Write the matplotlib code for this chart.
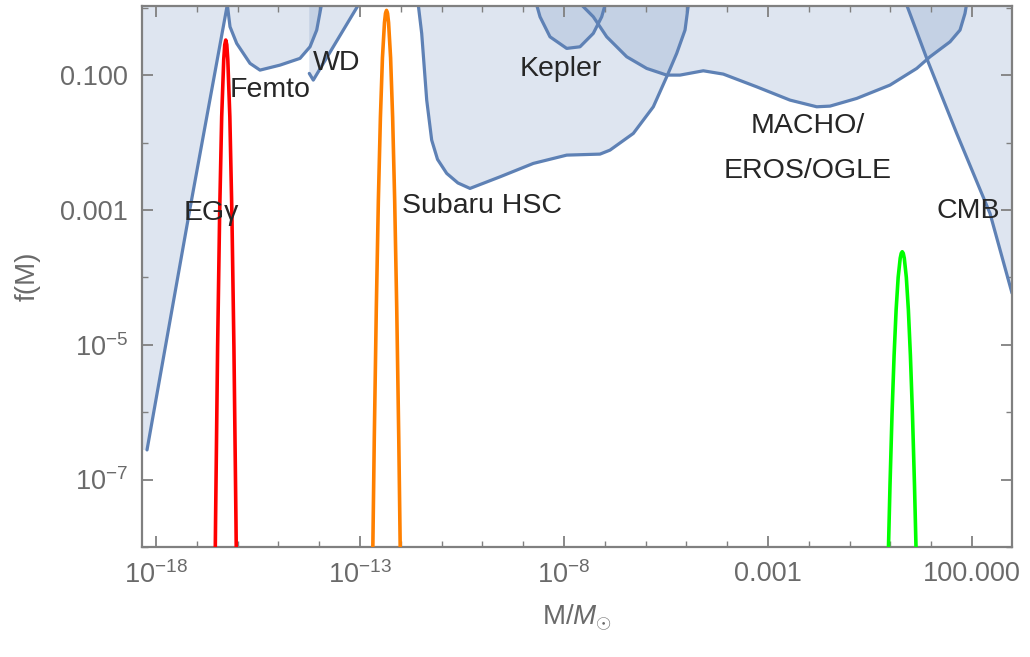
import numpy as np
import matplotlib
matplotlib.use("Agg")
import matplotlib.pyplot as plt
from matplotlib.ticker import FixedLocator, FixedFormatter, NullFormatter

plt.rcParams['font.family'] = ['Liberation Sans', 'DejaVu Sans']
plt.rcParams['mathtext.fontset'] = 'custom'
plt.rcParams['mathtext.rm'] = 'Liberation Sans'
plt.rcParams['mathtext.it'] = 'Liberation Sans:italic'

TOP = 1.2  # constraint fills go up to (beyond) the top of the plot

# ---- constraint curves (log10 M, log10 f) ----
egamma_logm = [-18.22, -17.17, -16.25]
egamma_logf = [-6.56, -2.99, 0.05]

femto_logm = [-16.253, -16.186, -16.022, -15.696, -15.451, -14.961, -14.471, -14.225, -14.061, -13.939]
femto_logf = [0.053, -0.283, -0.530, -0.826, -0.926, -0.852, -0.752, -0.580, -0.332, 0.064]

wd_logm = [-14.243, -14.145, -13.042]
wd_logf = [-0.975, -1.074, 0.039]

subaru_logm = [-11.571, -11.488, -11.365, -11.243, -11.10, -10.875, -10.60, -10.304, -9.569, -8.752, -7.934,
               -7.118, -6.873, -6.301, -5.811, -5.483, -5.238, -5.034, -4.953]
subaru_logf = [0.039, -0.381, -1.371, -1.964, -2.25, -2.458, -2.60, -2.681, -2.509, -2.310, -2.187,
               -2.172, -2.113, -1.865, -1.470, -1.025, -0.678, -0.332, 0.039]

kepler_logm = [-8.669, -8.588, -8.343, -7.934, -7.608, -7.282, -7.076, -6.995]
kepler_logf = [0.039, -0.135, -0.432, -0.604, -0.580, -0.381, -0.135, 0.039]

macho_logm = [-7.566, -7.282, -6.953, -6.463, -5.973, -5.483, -5.157, -4.586, -4.096, -3.277,
              -2.461, -1.806, -1.480, -0.826, -0.010, 0.645, 0.971, 1.461, 1.706, 1.828, 1.870]
macho_logf = [0.039, -0.135, -0.432, -0.728, -0.901, -1.0, -1.0, -0.936, -0.985, -1.174,
              -1.371, -1.470, -1.460, -1.346, -1.148, -0.901, -0.728, -0.506, -0.332, -0.085, 0.064]

cmb_logm = [0.400, 0.890, 1.625, 2.441, 2.980]
cmb_logf = [0.039, -0.752, -1.865, -3.052, -4.234]

# ---- PBH mass functions (log10 M, log10 f) ----
red_logm = [-16.56, -16.54, -16.49, -16.44, -16.39, -16.34, -16.315, -16.29,
            -16.265, -16.24, -16.19, -16.14, -16.09, -16.04, -16.02]
red_logf = [-8.79, -7.61, -5.04, -3.05, -1.62, -0.77, -0.55, -0.48,
            -0.55, -0.77, -1.62, -3.05, -5.04, -7.61, -8.79]

orange_logm = [-12.70, -12.65, -12.60, -12.55, -12.50, -12.45, -12.40, -12.375, -12.35,
               -12.325, -12.30, -12.25, -12.20, -12.15, -12.10, -12.05, -12.00]
orange_logf = [-8.67, -6.39, -4.45, -2.86, -1.63, -0.745, -0.22, -0.084, -0.04,
               -0.084, -0.22, -0.745, -1.63, -2.86, -4.45, -6.39, -8.67]

green_logm = [-0.06, -0.01, 0.04, 0.09, 0.14, 0.19, 0.24, 0.265, 0.29,
              0.315, 0.34, 0.39, 0.44, 0.49, 0.54, 0.59, 0.64]
green_logf = [-8.32, -7.08, -6.02, -5.16, -4.48, -4.0, -3.716, -3.644, -3.62,
              -3.644, -3.716, -4.0, -4.48, -5.16, -6.02, -7.08, -8.32]

labels = ["EGγ", "Femto", "WD", "Subaru HSC", "Kepler", "MACHO/", "EROS/OGLE", "CMB"]
label_logm = [-17.314, -16.186, -14.152, -11.971, -8.074, -2.02, -2.02, 1.14]
label_logf = [-3.151, -1.326, -0.926, -3.047, -1.015, -1.861, -2.528, -3.122]
label_ha = ["left", "left", "left", "left", "center", "center", "center", "left"]

xmin, xmax = 10**-18.343, 10**2.98
ymin, ymax = 1e-8, 10**0.025

line_c = '#5E81B5'
fill_c = '#5E81B5'

fig = plt.figure(figsize=(10.30, 6.57), dpi=100)
ax = fig.add_axes([142/1030, 1-547/657, (1012-142)/1030, (547-6)/657])


def p(v):
    return 10**np.asarray(v, dtype=float)


def region(lm, lf, extend_left=None, extend_right=None):
    xs = list(lm)
    ys = list(lf)
    if extend_left is not None:
        xs = [np.log10(xmin) - 0.1] + xs
        ys = [ys[0]] + ys
    if extend_right is not None:
        xs = xs + [np.log10(xmax) + 0.1]
        ys = ys + [ys[-1] - 0.3]
    px = list(xs) + [xs[-1], xs[0]]
    py = list(ys) + [np.log10(TOP), np.log10(TOP)]
    ax.fill(p(px), p(py), color=fill_c, alpha=0.2, lw=0, zorder=1)
    ax.plot(p(lm), p(lf), color=line_c, lw=2.3, zorder=2, solid_joinstyle='round',
            solid_capstyle='round')


region(egamma_logm, egamma_logf, extend_left=True)
region(femto_logm, femto_logf)
region(wd_logm, wd_logf)
region(subaru_logm, subaru_logf)
region(kepler_logm, kepler_logf)
region(macho_logm, macho_logf)
region(cmb_logm, cmb_logf, extend_right=True)

ax.plot(p(red_logm), p(red_logf), color='#ff0000', lw=2.6, zorder=3)
ax.plot(p(orange_logm), p(orange_logf), color='#ff8000', lw=2.6, zorder=3)
ax.plot(p(green_logm), p(green_logf), color='#00ff00', lw=2.6, zorder=3)

for t, lx, ly, ha in zip(labels, label_logm, label_logf, label_ha):
    ax.text(10**lx, 10**ly, t, ha=ha, va='baseline', fontsize=20.5, color='#262626', zorder=4)

ax.set_xscale('log')
ax.set_yscale('log')
ax.set_xlim(xmin, xmax)
ax.set_ylim(ymin, ymax)

xt = [1e-18, 1e-13, 1e-8, 1e-3, 1e2]
xtl = [r'$10^{-18}$', r'$10^{-13}$', r'$10^{-8}$', '0.001', '100.000']
yt = [1e-7, 1e-5, 1e-3, 1e-1]
ytl = [r'$10^{-7}$', r'$10^{-5}$', '0.001', '0.100']
ax.xaxis.set_major_locator(FixedLocator(xt))
ax.xaxis.set_major_formatter(FixedFormatter(xtl))
ax.yaxis.set_major_locator(FixedLocator(yt))
ax.yaxis.set_major_formatter(FixedFormatter(ytl))
ax.xaxis.set_minor_locator(FixedLocator([10.0**k for k in range(-18, 3)]))
ax.yaxis.set_minor_locator(FixedLocator([10.0**k for k in range(-8, 1)]))
ax.xaxis.set_minor_formatter(NullFormatter())
ax.yaxis.set_minor_formatter(NullFormatter())

frame_c = '#808080'
for s in ax.spines.values():
    s.set_color(frame_c)
    s.set_linewidth(1.6)
ax.tick_params(which='both', direction='in', top=True, right=True, color=frame_c,
               labelcolor='#6a6a6a', labelsize=19.5)
ax.tick_params(which='major', length=8, width=1.3, pad=10)
ax.tick_params(which='minor', length=4.5, width=1.0)

ax.set_xlabel(r'M/$M_{\odot}$', fontsize=20, color='#6a6a6a', labelpad=10)
ax.set_ylabel('f(M)', fontsize=20, color='#6a6a6a', labelpad=14)

fig.savefig('out.png', dpi=100)
